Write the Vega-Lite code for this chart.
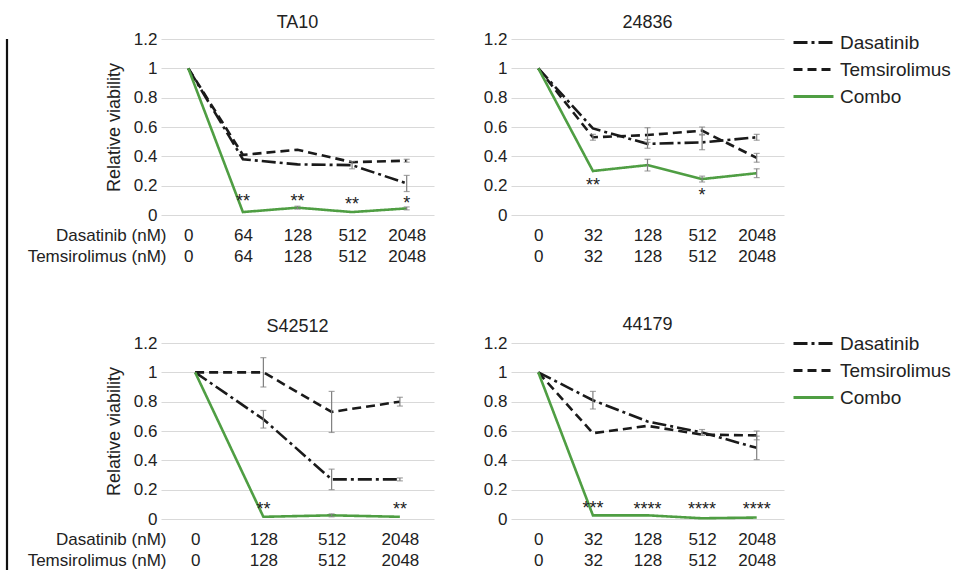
{
  "$schema": "https://vega.github.io/schema/vega-lite/v6.json",
  "background": "white",
  "padding": {"left": 5, "top": 14, "right": 0, "bottom": 0},
  "config": {
    "font": "Liberation Sans",
    "view": {"stroke": null},
    "axis": {"domain": false, "ticks": false, "labelColor": "#222", "titleColor": "#222", "labelFontSize": 17, "titleFontWeight": "normal", "grid": false},
    "axisY": {"grid": true, "gridColor": "#d9d9d9", "gridWidth": 1.2, "labelPadding": 4, "titleFontSize": 18, "titlePadding": 10},
    "axisX": {"labelAngle": 0, "labelPadding": 12, "labelLineHeight": 21, "labelBaseline": "top"},
    "title": {"fontSize": 18, "fontWeight": "normal", "color": "#222", "anchor": "middle", "frame": "group", "offset": -2},
    "legend": {"labelFontSize": 19, "labelColor": "#222", "symbolSize": 400, "symbolStrokeWidth": 3, "labelOffset": 15, "rowPadding": 5, "symbolType": "M-2,0L2,0"}
  },
  "datasets": {
    "main": [
      {"panel": "TA10", "drug": "Dasatinib", "dose": "0", "v": 1, "err": 0},
      {"panel": "TA10", "drug": "Dasatinib", "dose": "64", "v": 0.38, "err": 0},
      {"panel": "TA10", "drug": "Dasatinib", "dose": "128", "v": 0.345, "err": 0},
      {"panel": "TA10", "drug": "Dasatinib", "dose": "512", "v": 0.34, "err": 0.025},
      {"panel": "TA10", "drug": "Dasatinib", "dose": "2048", "v": 0.215, "err": 0.055},
      {"panel": "TA10", "drug": "Temsirolimus", "dose": "0", "v": 1, "err": 0},
      {"panel": "TA10", "drug": "Temsirolimus", "dose": "64", "v": 0.41, "err": 0},
      {"panel": "TA10", "drug": "Temsirolimus", "dose": "128", "v": 0.445, "err": 0},
      {"panel": "TA10", "drug": "Temsirolimus", "dose": "512", "v": 0.36, "err": 0},
      {"panel": "TA10", "drug": "Temsirolimus", "dose": "2048", "v": 0.37, "err": 0.01},
      {"panel": "TA10", "drug": "Combo", "dose": "0", "v": 1, "err": 0},
      {"panel": "TA10", "drug": "Combo", "dose": "64", "v": 0.02, "err": 0},
      {"panel": "TA10", "drug": "Combo", "dose": "128", "v": 0.05, "err": 0.01},
      {"panel": "TA10", "drug": "Combo", "dose": "512", "v": 0.02, "err": 0},
      {"panel": "TA10", "drug": "Combo", "dose": "2048", "v": 0.045, "err": 0.01},

      {"panel": "24836", "drug": "Dasatinib", "dose": "0", "v": 1, "err": 0},
      {"panel": "24836", "drug": "Dasatinib", "dose": "32", "v": 0.59, "err": 0},
      {"panel": "24836", "drug": "Dasatinib", "dose": "128", "v": 0.485, "err": 0.03},
      {"panel": "24836", "drug": "Dasatinib", "dose": "512", "v": 0.495, "err": 0.05},
      {"panel": "24836", "drug": "Dasatinib", "dose": "2048", "v": 0.53, "err": 0.02},
      {"panel": "24836", "drug": "Temsirolimus", "dose": "0", "v": 1, "err": 0},
      {"panel": "24836", "drug": "Temsirolimus", "dose": "32", "v": 0.53, "err": 0.02},
      {"panel": "24836", "drug": "Temsirolimus", "dose": "128", "v": 0.545, "err": 0.05},
      {"panel": "24836", "drug": "Temsirolimus", "dose": "512", "v": 0.575, "err": 0.025},
      {"panel": "24836", "drug": "Temsirolimus", "dose": "2048", "v": 0.39, "err": 0.03},
      {"panel": "24836", "drug": "Combo", "dose": "0", "v": 1, "err": 0},
      {"panel": "24836", "drug": "Combo", "dose": "32", "v": 0.3, "err": 0},
      {"panel": "24836", "drug": "Combo", "dose": "128", "v": 0.34, "err": 0.04},
      {"panel": "24836", "drug": "Combo", "dose": "512", "v": 0.245, "err": 0.02},
      {"panel": "24836", "drug": "Combo", "dose": "2048", "v": 0.285, "err": 0.03},

      {"panel": "S42512", "drug": "Dasatinib", "dose": "0", "v": 1, "err": 0},
      {"panel": "S42512", "drug": "Dasatinib", "dose": "128", "v": 0.68, "err": 0.06},
      {"panel": "S42512", "drug": "Dasatinib", "dose": "512", "v": 0.27, "err": 0.07},
      {"panel": "S42512", "drug": "Dasatinib", "dose": "2048", "v": 0.27, "err": 0.01},
      {"panel": "S42512", "drug": "Temsirolimus", "dose": "0", "v": 1, "err": 0},
      {"panel": "S42512", "drug": "Temsirolimus", "dose": "128", "v": 1.0, "err": 0.1},
      {"panel": "S42512", "drug": "Temsirolimus", "dose": "512", "v": 0.73, "err": 0.14},
      {"panel": "S42512", "drug": "Temsirolimus", "dose": "2048", "v": 0.8, "err": 0.03},
      {"panel": "S42512", "drug": "Combo", "dose": "0", "v": 1, "err": 0},
      {"panel": "S42512", "drug": "Combo", "dose": "128", "v": 0.015, "err": 0},
      {"panel": "S42512", "drug": "Combo", "dose": "512", "v": 0.025, "err": 0.01},
      {"panel": "S42512", "drug": "Combo", "dose": "2048", "v": 0.015, "err": 0},

      {"panel": "44179", "drug": "Dasatinib", "dose": "0", "v": 1, "err": 0},
      {"panel": "44179", "drug": "Dasatinib", "dose": "32", "v": 0.81, "err": 0.06},
      {"panel": "44179", "drug": "Dasatinib", "dose": "128", "v": 0.665, "err": 0},
      {"panel": "44179", "drug": "Dasatinib", "dose": "512", "v": 0.59, "err": 0.02},
      {"panel": "44179", "drug": "Dasatinib", "dose": "2048", "v": 0.485, "err": 0.08},
      {"panel": "44179", "drug": "Temsirolimus", "dose": "0", "v": 1, "err": 0},
      {"panel": "44179", "drug": "Temsirolimus", "dose": "32", "v": 0.585, "err": 0},
      {"panel": "44179", "drug": "Temsirolimus", "dose": "128", "v": 0.635, "err": 0},
      {"panel": "44179", "drug": "Temsirolimus", "dose": "512", "v": 0.575, "err": 0},
      {"panel": "44179", "drug": "Temsirolimus", "dose": "2048", "v": 0.57, "err": 0.03},
      {"panel": "44179", "drug": "Combo", "dose": "0", "v": 1, "err": 0},
      {"panel": "44179", "drug": "Combo", "dose": "32", "v": 0.025, "err": 0},
      {"panel": "44179", "drug": "Combo", "dose": "128", "v": 0.025, "err": 0},
      {"panel": "44179", "drug": "Combo", "dose": "512", "v": 0.005, "err": 0},
      {"panel": "44179", "drug": "Combo", "dose": "2048", "v": 0.01, "err": 0}
    ],
    "stars": [
      {"panel": "TA10", "dose": "64", "v": 0.11, "sig": "**"},
      {"panel": "TA10", "dose": "128", "v": 0.11, "sig": "**"},
      {"panel": "TA10", "dose": "512", "v": 0.09, "sig": "**"},
      {"panel": "TA10", "dose": "2048", "v": 0.095, "sig": "*"},
      {"panel": "24836", "dose": "32", "v": 0.22, "sig": "**"},
      {"panel": "24836", "dose": "512", "v": 0.15, "sig": "*"},
      {"panel": "S42512", "dose": "128", "v": 0.08, "sig": "**"},
      {"panel": "S42512", "dose": "2048", "v": 0.08, "sig": "**"},
      {"panel": "44179", "dose": "32", "v": 0.09, "sig": "***"},
      {"panel": "44179", "dose": "128", "v": 0.08, "sig": "****"},
      {"panel": "44179", "dose": "512", "v": 0.08, "sig": "****"},
      {"panel": "44179", "dose": "2048", "v": 0.08, "sig": "****"}
    ]
  },
  "resolve": {"scale": {"color": "independent", "strokeDash": "independent"}, "legend": {"color": "independent", "strokeDash": "independent"}},
  "spacing": 18,
  "hconcat": [
    {
      "width": 2, "height": 560,
      "data": {"values": [{"y0": 0, "y1": 1}]},
      "mark": {"type": "rule", "strokeWidth": 2.2, "color": "#111"},
      "encoding": {
        "y": {"field": "y0", "type": "quantitative", "scale": {"domain": [0, 1], "nice": false}, "axis": null},
        "y2": {"field": "y1"}
      }
    },
    {
      "spacing": 52,
      "resolve": {"scale": {"color": "independent", "strokeDash": "independent"}, "legend": {"color": "independent", "strokeDash": "independent"}},
      "vconcat": [
        {
          "spacing": 49,
          "resolve": {"scale": {"color": "independent", "strokeDash": "independent"}, "legend": {"color": "independent", "strokeDash": "independent"}},
          "hconcat": [
            {
              "width": 273, "height": 176,
              "title": "TA10",
              "encoding": {
                "x": {"field": "dose", "type": "ordinal", "scale": {"type": "point", "padding": 0.5, "domain": ["0", "64", "128", "512", "2048"]},
                      "axis": {"labelExpr": "[datum.label, datum.label]", "title": ["Dasatinib (nM)", "Temsirolimus (nM)"], "titleFontSize": 17, "titleLineHeight": 21, "titleAlign": "right", "titleAnchor": "start", "titleBaseline": "top", "titleX": 5, "titleY": 12, "titleAngle": 0}},
                "y": {"field": "v", "type": "quantitative", "scale": {"domain": [0, 1.2], "nice": false}, "axis": {"values": [0, 0.2, 0.4, 0.6, 0.8, 1, 1.2], "format": "~g", "title": "Relative viability"}}
              },
              "layer": [
                {"data": {"name": "main"}, "transform": [{"filter": "datum.panel === 'TA10'"}],
                 "mark": {"type": "line", "strokeWidth": 2.6},
                 "encoding": {
                   "color": {"field": "drug", "type": "nominal", "scale": {"domain": ["Dasatinib", "Temsirolimus", "Combo"], "range": ["#1a1a1a", "#1a1a1a", "#4f9e43"]}, "legend": null},
                   "strokeDash": {"field": "drug", "type": "nominal", "scale": {"domain": ["Dasatinib", "Temsirolimus", "Combo"], "range": [[14, 4, 3, 4], [9, 5], [1, 0]]}, "legend": null}
                 }},
                {"data": {"name": "main"}, "transform": [{"filter": "datum.panel === 'TA10' && datum.err > 0"}],
                 "mark": {"type": "errorbar", "color": "#7f7f7f", "thickness": 1.2, "ticks": {"size": 6, "thickness": 1.2}},
                 "encoding": {"yError": {"field": "err"}}},
                {"data": {"name": "stars"}, "transform": [{"filter": "datum.panel === 'TA10'"}],
                 "mark": {"type": "text", "fontSize": 18, "baseline": "alphabetic", "dy": 8, "color": "#222"},
                 "encoding": {"text": {"field": "sig"}}}
              ]
            },
            {
              "width": 273, "height": 176,
              "title": "24836",
              "encoding": {
                "x": {"field": "dose", "type": "ordinal", "scale": {"type": "point", "padding": 0.5, "domain": ["0", "32", "128", "512", "2048"]},
                      "axis": {"labelExpr": "[datum.label, datum.label]", "title": null}},
                "y": {"field": "v", "type": "quantitative", "scale": {"domain": [0, 1.2], "nice": false}, "axis": {"values": [0, 0.2, 0.4, 0.6, 0.8, 1, 1.2], "format": "~g", "title": null}}
              },
              "layer": [
                {"data": {"name": "main"}, "transform": [{"filter": "datum.panel === '24836'"}],
                 "mark": {"type": "line", "strokeWidth": 2.6},
                 "encoding": {
                   "color": {"field": "drug", "type": "nominal", "scale": {"domain": ["Dasatinib", "Temsirolimus", "Combo"], "range": ["#1a1a1a", "#1a1a1a", "#4f9e43"]}, "legend": {"title": null, "orient": "none", "legendX": 291, "legendY": -8}},
                   "strokeDash": {"field": "drug", "type": "nominal", "scale": {"domain": ["Dasatinib", "Temsirolimus", "Combo"], "range": [[14, 4, 3, 4], [9, 5], [1, 0]]}, "legend": {"title": null, "orient": "none", "legendX": 291, "legendY": -8}}
                 }},
                {"data": {"name": "main"}, "transform": [{"filter": "datum.panel === '24836' && datum.err > 0"}],
                 "mark": {"type": "errorbar", "color": "#7f7f7f", "thickness": 1.2, "ticks": {"size": 6, "thickness": 1.2}},
                 "encoding": {"yError": {"field": "err"}}},
                {"data": {"name": "stars"}, "transform": [{"filter": "datum.panel === '24836'"}],
                 "mark": {"type": "text", "fontSize": 18, "baseline": "alphabetic", "dy": 8, "color": "#222"},
                 "encoding": {"text": {"field": "sig"}}}
              ]
            }
          ]
        },
        {
          "spacing": 49,
          "resolve": {"scale": {"color": "independent", "strokeDash": "independent"}, "legend": {"color": "independent", "strokeDash": "independent"}},
          "hconcat": [
            {
              "width": 273, "height": 176,
              "title": "S42512",
              "encoding": {
                "x": {"field": "dose", "type": "ordinal", "scale": {"type": "point", "padding": 0.5, "domain": ["0", "128", "512", "2048"]},
                      "axis": {"labelExpr": "[datum.label, datum.label]", "title": ["Dasatinib (nM)", "Temsirolimus (nM)"], "titleFontSize": 17, "titleLineHeight": 21, "titleAlign": "right", "titleAnchor": "start", "titleBaseline": "top", "titleX": 5, "titleY": 12, "titleAngle": 0}},
                "y": {"field": "v", "type": "quantitative", "scale": {"domain": [0, 1.2], "nice": false}, "axis": {"values": [0, 0.2, 0.4, 0.6, 0.8, 1, 1.2], "format": "~g", "title": "Relative viability"}}
              },
              "layer": [
                {"data": {"name": "main"}, "transform": [{"filter": "datum.panel === 'S42512'"}],
                 "mark": {"type": "line", "strokeWidth": 2.6},
                 "encoding": {
                   "color": {"field": "drug", "type": "nominal", "scale": {"domain": ["Dasatinib", "Temsirolimus", "Combo"], "range": ["#1a1a1a", "#1a1a1a", "#4f9e43"]}, "legend": null},
                   "strokeDash": {"field": "drug", "type": "nominal", "scale": {"domain": ["Dasatinib", "Temsirolimus", "Combo"], "range": [[14, 4, 3, 4], [9, 5], [1, 0]]}, "legend": null}
                 }},
                {"data": {"name": "main"}, "transform": [{"filter": "datum.panel === 'S42512' && datum.err > 0"}],
                 "mark": {"type": "errorbar", "color": "#7f7f7f", "thickness": 1.2, "ticks": {"size": 6, "thickness": 1.2}},
                 "encoding": {"yError": {"field": "err"}}},
                {"data": {"name": "stars"}, "transform": [{"filter": "datum.panel === 'S42512'"}],
                 "mark": {"type": "text", "fontSize": 18, "baseline": "alphabetic", "dy": 8, "color": "#222"},
                 "encoding": {"text": {"field": "sig"}}}
              ]
            },
            {
              "width": 273, "height": 176,
              "title": "44179",
              "encoding": {
                "x": {"field": "dose", "type": "ordinal", "scale": {"type": "point", "padding": 0.5, "domain": ["0", "32", "128", "512", "2048"]},
                      "axis": {"labelExpr": "[datum.label, datum.label]", "title": null}},
                "y": {"field": "v", "type": "quantitative", "scale": {"domain": [0, 1.2], "nice": false}, "axis": {"values": [0, 0.2, 0.4, 0.6, 0.8, 1, 1.2], "format": "~g", "title": null}}
              },
              "layer": [
                {"data": {"name": "main"}, "transform": [{"filter": "datum.panel === '44179'"}],
                 "mark": {"type": "line", "strokeWidth": 2.6},
                 "encoding": {
                   "color": {"field": "drug", "type": "nominal", "scale": {"domain": ["Dasatinib", "Temsirolimus", "Combo"], "range": ["#1a1a1a", "#1a1a1a", "#4f9e43"]}, "legend": {"title": null, "orient": "none", "legendX": 291, "legendY": -11}},
                   "strokeDash": {"field": "drug", "type": "nominal", "scale": {"domain": ["Dasatinib", "Temsirolimus", "Combo"], "range": [[14, 4, 3, 4], [9, 5], [1, 0]]}, "legend": {"title": null, "orient": "none", "legendX": 291, "legendY": -11}}
                 }},
                {"data": {"name": "main"}, "transform": [{"filter": "datum.panel === '44179' && datum.err > 0"}],
                 "mark": {"type": "errorbar", "color": "#7f7f7f", "thickness": 1.2, "ticks": {"size": 6, "thickness": 1.2}},
                 "encoding": {"yError": {"field": "err"}}},
                {"data": {"name": "stars"}, "transform": [{"filter": "datum.panel === '44179'"}],
                 "mark": {"type": "text", "fontSize": 18, "baseline": "alphabetic", "dy": 8, "color": "#222"},
                 "encoding": {"text": {"field": "sig"}}}
              ]
            }
          ]
        }
      ]
    }
  ]
}
